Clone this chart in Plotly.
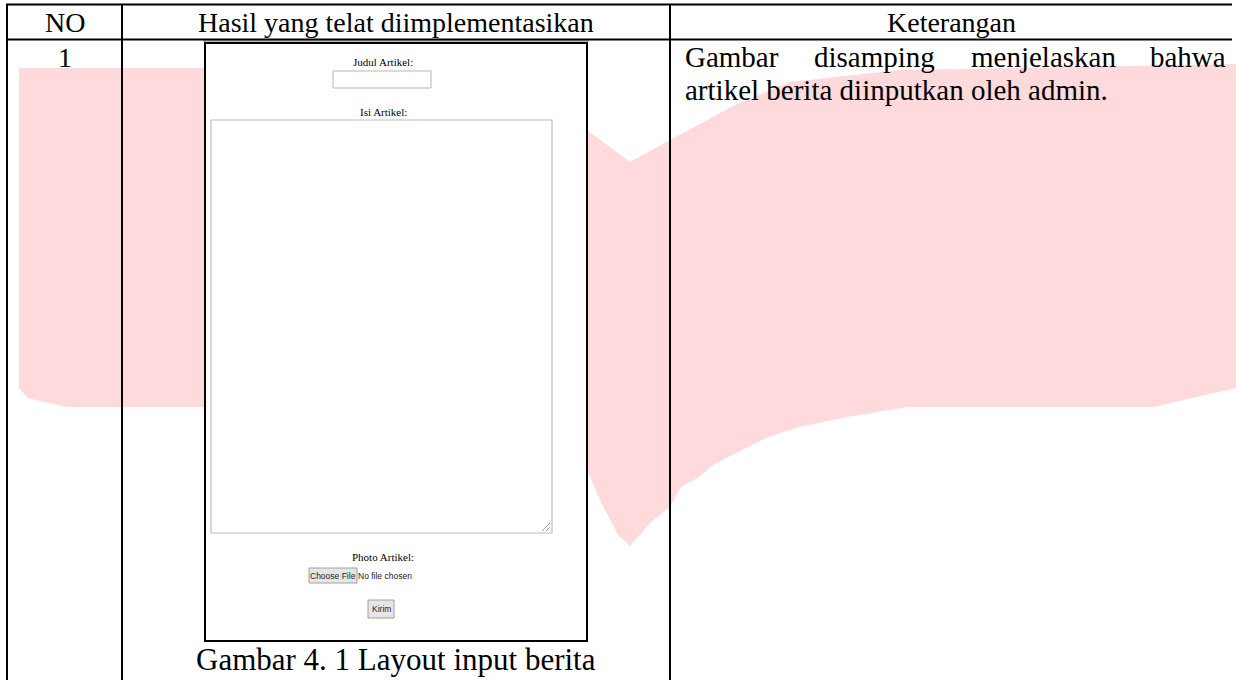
import plotly.graph_objects as go

# ---------------- data (table content) ----------------
headers = ["NO", "Hasil yang telat diimplementasikan", "Keterangan"]
row_no = ["1"]
desc_line1_words = ["Gambar", "disamping", "menjelaskan", "bahwa"]
desc_line2 = ["artikel berita diinputkan oleh admin."]
caption = ["Gambar 4. 1 Layout input berita"]
form_labels = ["Judul Artikel:", "Isi Artikel:", "Photo Artikel:"]
form_buttons = ["Choose File", "Kirim"]
form_status = ["No file chosen"]

# ---------------- layout constants ----------------
W, H = 1236, 680
X_LEFT, X_DIV1, X_DIV2, X_RIGHT = 7, 122, 670, 1232
Y_TOP, Y_HEAD = 4.5, 39.5
SERIF = "Liberation Serif, Times New Roman, serif"
SANS = "Liberation Sans, Arial, sans-serif"
PINK = "#FEDADC"

fig = go.Figure()
shapes = []
ann = []

# pink watermark
wm = [(19, 68), (400, 68), (587, 130), (630, 162), (670, 140), (735, 105), (790, 82),
      (900, 70), (1236, 64), (1236, 388), (1192, 398), (1154, 407), (908, 407),
      (847, 417), (799, 427), (768, 437), (748, 447), (728, 457), (710, 467),
      (699, 477), (681, 487), (670, 507), (651, 522), (630, 546), (618, 535),
      (600, 500), (587, 470), (400, 450), (205, 407), (67, 407), (28, 398), (19, 388)]
path = "M " + " L ".join(f"{x},{y}" for x, y in wm) + " Z"
shapes.append(dict(type="path", path=path, fillcolor=PINK, line=dict(width=0),
                   xref="x", yref="y", layer="below"))

# screenshot frame (white interior)
FX0, FY0, FX1, FY1 = 205, 43, 587, 641
shapes.append(dict(type="rect", x0=FX0 - 1, y0=FY0 - 3, x1=FX1 + 1, y1=FY0 - 1,
                   line=dict(width=1, color="#9a9a9a"), fillcolor="#d8d8d8", xref="x", yref="y"))
shapes.append(dict(type="rect", x0=FX0, y0=FY0, x1=FX1, y1=FY1,
                   line=dict(width=2, color="#000"), fillcolor="white", xref="x", yref="y"))

# form elements
CX = 383
# input box
shapes.append(dict(type="rect", x0=333, y0=71, x1=431, y1=88,
                   line=dict(width=1, color="#b5b5b5"), fillcolor="white", xref="x", yref="y"))
# textarea
shapes.append(dict(type="rect", x0=211, y0=120, x1=552, y1=533,
                   line=dict(width=1.2, color="#bdbdbd"), fillcolor="white", xref="x", yref="y"))
for d in (4, 8):
    shapes.append(dict(type="line", x0=550 - d, y0=531, x1=550, y1=531 - d,
                       line=dict(width=1, color="#9a9a9a"), xref="x", yref="y"))
# buttons
shapes.append(dict(type="rect", x0=309, y0=568, x1=357, y1=583,
                   line=dict(width=1, color="#a0a0a0"), fillcolor="#e6e6e6", xref="x", yref="y"))
shapes.append(dict(type="rect", x0=368, y0=600, x1=394, y1=618,
                   line=dict(width=1, color="#a0a0a0"), fillcolor="#e6e6e6", xref="x", yref="y"))

# table lines
line_style = dict(width=2, color="#000")
for y in (Y_TOP, Y_HEAD):
    shapes.append(dict(type="line", x0=X_LEFT - 1, x1=X_RIGHT, y0=y, y1=y, line=line_style,
                       xref="x", yref="y"))
for x in (X_LEFT, X_DIV1, X_DIV2):
    shapes.append(dict(type="line", x0=x, x1=x, y0=Y_TOP, y1=H + 5, line=line_style,
                       xref="x", yref="y"))


def text(x, y, s, size, font=SERIF, xanchor="center", color="#000"):
    ann.append(dict(x=x, y=y, text=s, showarrow=False, xref="x", yref="y",
                    xanchor=xanchor, yanchor="middle",
                    font=dict(family=font, size=size, color=color)))


# headers
col_centers = [(X_LEFT + X_DIV1) / 2, (X_DIV1 + X_DIV2) / 2, (X_DIV2 + X_RIGHT) / 2]
for cx, h in zip(col_centers, headers):
    text(cx, 22, h, 28)

# row 1
text(col_centers[0], 57, row_no[0], 28)
word_x = [683, 874, 1043, 1228]
anchors = ["left", "center", "center", "right"]
for x, w, a in zip(word_x, desc_line1_words, anchors):
    text(x, 57, w, 29, xanchor=a)
text(683, 90, desc_line2[0], 29, xanchor="left")

# caption
text(396, 659, caption[0], 31)

# form labels
text(CX, 62, form_labels[0], 11)
text(CX, 112, form_labels[1], 11)
text(CX, 557, form_labels[2], 11)
text(333, 575.5, form_buttons[0], 8.5, font=SANS, color="#222")
text(385, 575.5, form_status[0], 8.5, font=SANS, color="#222")
text(381, 609, form_buttons[1], 8.5, font=SANS, color="#222")

fig.update_layout(
    width=W, height=H, margin=dict(l=0, r=0, t=0, b=0),
    paper_bgcolor="white", plot_bgcolor="white",
    xaxis=dict(range=[0, W], visible=False, fixedrange=True),
    yaxis=dict(range=[H, 0], visible=False, fixedrange=True),
    shapes=shapes, annotations=ann, showlegend=False,
)
fig.write_html(
    "out.html",
    config=dict(displayModeBar=False),
    post_script="document.body.style.margin='0';document.body.style.overflow='hidden';",
)
